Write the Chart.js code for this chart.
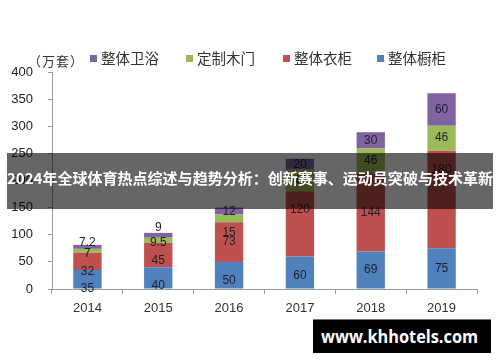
<!DOCTYPE html>
<html>
<head>
<meta charset="utf-8">
<script src="https://cdn.jsdelivr.net/npm/chart.js@4"></script>
<style>
  html, body { margin: 0; padding: 0; background: #fff; }
  #wrap { position: relative; width: 500px; height: 362px; overflow: hidden; }
  #chart { position: absolute; left: 0; top: 0; }
  .unit { position: absolute; left: 28px; top: 51px; font: 13px "Noto Sans CJK SC", sans-serif; color: #333; letter-spacing: 1px; }
  .leg { position: absolute; top: 47px; font: 14.5px "Noto Sans CJK SC", sans-serif; color: #333; white-space: nowrap; }
  .leg i { display: inline-block; width: 7px; height: 7px; margin-right: 4px; vertical-align: 2px; }
  #banner { position: absolute; left: 7px; top: 153px; width: 486px; height: 56px; background: rgba(0,0,0,0.6); }
  #banner span { position: absolute; left: 0; top: 14px; white-space: nowrap; color: #fff; font: bold 15px "Noto Sans CJK SC", sans-serif; transform-origin: 0 0; }
  #mark { position: absolute; left: 313px; top: 319px; width: 178px; height: 34px; background: #000; border-top: 1px solid #777; box-sizing: border-box; }
  #mark span { position: absolute; left: 8px; top: 5px; white-space: nowrap; color: #fff; font: bold 17px "Open Sans", sans-serif; transform-origin: 0 0; }
</style>
</head>
<body>
<div id="wrap">
  <canvas id="chart" width="500" height="362"></canvas>
  <div class="unit">（万套）</div>
  <div id="legend"></div>
  <div id="banner"><span id="bannerText">2024年全球体育热点综述与趋势分析：创新赛事、运动员突破与技术革新</span></div>
  <div id="mark"><span id="markText">www.khhotels.com</span></div>
</div>
<script>
// ----- data -----
var years = ["2014", "2015", "2016", "2017", "2018", "2019"];
var cabinet  = [35, 40, 50, 60, 69, 75];      // 整体橱柜
var wardrobe = [32, 45, 73, 120, 144, 180];   // 整体衣柜
var doors    = [7, 9.5, 15, 40, 46, 46];      // 定制木门
var bath     = [7.2, 9, 12, 20, 30, 60];      // 整体卫浴
var yTicks = [0, 50, 100, 150, 200, 250, 300, 350, 400];

var seriesNames = ["整体卫浴", "定制木门", "整体衣柜", "整体橱柜"];
var seriesColors = ["#8064A2", "#9BBB59", "#C0504D", "#4F81BD"];

// legend (top row), drawn as html
var legendLeft = [90, 186, 283, 377];
var legend = document.getElementById("legend");
for (var i = 0; i < seriesNames.length; i++) {
  var d = document.createElement("div");
  d.className = "leg";
  d.style.left = legendLeft[i] + "px";
  d.innerHTML = '<i style="background:' + seriesColors[i] + '"></i>' + seriesNames[i];
  legend.appendChild(d);
}

// squeeze overlay texts to the width they have in the picture
function fitWidth(id, w) {
  var el = document.getElementById(id);
  var cur = el.getBoundingClientRect().width;
  if (cur > 0) el.style.transform = "scaleX(" + (w / cur) + ")";
}
fitWidth("bannerText", 486);
fitWidth("markText", 157);

// the original labels sit a little off-centre; pixel nudges per dataset (cabinet, wardrobe, doors, bath)
var labelShift = [
  [9, 8, 5, 3, 0, 0],
  [10, 6, 0, -14, 0, -30],
  [3, 2, 14, 0, 0, 0],
  [-4, -8, 1, 0, 0, 0]
];

// value labels in the middle of each segment
var segLabels = {
  id: "segLabels",
  afterDatasetsDraw: function(chart) {
    var ctx = chart.ctx;
    ctx.save();
    ctx.font = "12px 'Liberation Sans', Arial, sans-serif";
    ctx.fillStyle = "#1e1e28";
    ctx.textAlign = "center";
    ctx.textBaseline = "middle";
    chart.data.datasets.forEach(function(ds, di) {
      var meta = chart.getDatasetMeta(di);
      meta.data.forEach(function(bar, j) {
        var y = (bar.y + bar.base) / 2 + labelShift[di][j];
        ctx.fillText(String(ds.data[j]), bar.x, y);
      });
    });
    ctx.restore();
  }
};

var axisColor = "#9a9a9a";

new Chart(document.getElementById("chart"), {
  type: "bar",
  data: {
    labels: years,
    datasets: [
      { label: seriesNames[3], data: cabinet,  backgroundColor: seriesColors[3] },
      { label: seriesNames[2], data: wardrobe, backgroundColor: seriesColors[2] },
      { label: seriesNames[1], data: doors,    backgroundColor: seriesColors[1] },
      { label: seriesNames[0], data: bath,     backgroundColor: seriesColors[0] }
    ]
  },
  options: {
    responsive: false,
    animation: false,
    events: [],
    layout: { padding: { top: 72, right: 23, left: 0, bottom: 0 } },
    datasets: { bar: { barPercentage: 0.4, categoryPercentage: 1 } },
    plugins: { legend: { display: false }, tooltip: { enabled: false } },
    scales: {
      x: {
        stacked: true,
        grid: { drawOnChartArea: false, drawTicks: true, tickLength: 5, color: axisColor },
        border: { color: axisColor, width: 1 },
        ticks: { color: "#333", padding: 7, font: { size: 13, family: "'Liberation Sans', Arial, sans-serif" } },
        afterFit: function(s) { s.height = 73; }
      },
      y: {
        stacked: true,
        min: 0,
        max: 400,
        afterBuildTicks: function(s) { s.ticks = yTicks.map(function(v) { return { value: v }; }); },
        grid: { drawOnChartArea: false, drawTicks: true, tickLength: 4, color: axisColor },
        border: { color: axisColor, width: 1 },
        ticks: { color: "#222", padding: 15, font: { size: 13, family: "'Liberation Sans', Arial, sans-serif" } },
        afterFit: function(s) { s.width = 52; }
      }
    }
  },
  plugins: [segLabels]
});
</script>
</body>
</html>
